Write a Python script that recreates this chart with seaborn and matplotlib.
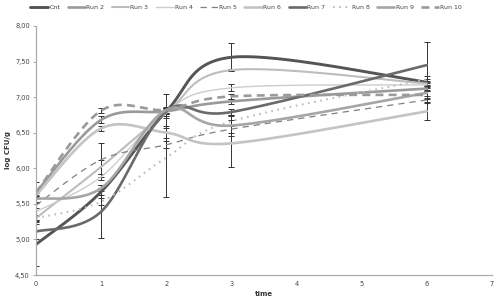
import numpy as np
import pandas as pd
import matplotlib
matplotlib.use("Agg")
import matplotlib.pyplot as plt
import seaborn as sns

# ---- data ----
time = [0, 1, 2, 3, 6]
series_names = ["Cnt", "Run 2", "Run 3", "Run 4", "Run 5",
                "Run 6", "Run 7", "Run 8", "Run 9", "Run 10"]
cnt    = [4.93, 5.67, 6.80, 7.56, 7.21]
run2   = [5.66, 6.68, 6.80, 6.94, 7.12]
run3   = [5.30, 6.02, 6.78, 7.38, 7.19]
run4   = [5.39, 5.88, 6.80, 7.13, 7.17]
run5   = [5.48, 6.12, 6.33, 6.55, 6.96]
run6   = [5.62, 6.56, 6.50, 6.35, 6.80]
run7   = [5.11, 5.39, 6.80, 6.79, 7.45]
run8   = [5.30, 5.53, 6.15, 6.66, 7.25]
run9   = [5.57, 5.72, 6.82, 6.60, 7.06]
run10  = [5.66, 6.81, 6.82, 7.01, 7.03]
values = [cnt, run2, run3, run4, run5, run6, run7, run8, run9, run10]

err_cnt   = [0.31, 0.05, 0.04, 0.20, 0.04]
err_run2  = [0.14, 0.05, 0.04, 0.04, 0.04]
err_run3  = [0.04, 0.10, 0.04, 0.02, 0.04]
err_run4  = [0.12, 0.04, 0.03, 0.05, 0.03]
err_run5  = [0.04, 0.24, 0.05, 0.05, 0.03]
err_run6  = [0.03, 0.04, 0.07, 0.33, 0.12]
err_run7  = [0.10, 0.37, 0.04, 0.04, 0.32]
err_run8  = [0.03, 0.05, 0.55, 0.07, 0.04]
err_run9  = [0.04, 0.04, 0.22, 0.15, 0.04]
err_run10 = [0.03, 0.03, 0.04, 0.04, 0.05]
errors = [err_cnt, err_run2, err_run3, err_run4, err_run5,
          err_run6, err_run7, err_run8, err_run9, err_run10]

y_ticks = [4.5, 5.0, 5.5, 6.0, 6.5, 7.0, 7.5, 8.0]
x_ticks = [0, 1, 2, 3, 4, 5, 6, 7]

# ---- styles ----
styles = {
    "Cnt":    dict(color="#555555", lw=2.1, ls="-"),
    "Run 2":  dict(color="#9a9a9a", lw=1.9, ls="-"),
    "Run 3":  dict(color="#bdbdbd", lw=1.5, ls="-"),
    "Run 4":  dict(color="#cccccc", lw=1.0, ls="-"),
    "Run 5":  dict(color="#808080", lw=0.9, ls=(0, (5, 4))),
    "Run 6":  dict(color="#c4c4c4", lw=1.9, ls="-"),
    "Run 7":  dict(color="#6a6a6a", lw=1.9, ls="-"),
    "Run 8":  dict(color="#bcbcbc", lw=1.5, ls=(0, (0.8, 2.2))),
    "Run 9":  dict(color="#a6a6a6", lw=1.9, ls="-"),
    "Run 10": dict(color="#9a9a9a", lw=1.9, ls=(0, (3, 2))),
}


def smooth(xs, ys, n=40):
    """Excel-like smoothed line: cubic Bezier through the points."""
    P = np.column_stack([xs, ys]).astype(float)
    m = len(P)
    out = []
    for i in range(m - 1):
        p0 = P[max(i - 1, 0)]
        p1 = P[i]
        p2 = P[i + 1]
        p3 = P[min(i + 2, m - 1)]
        c1 = p1 + (p2 - p0) / 6.0
        c2 = p2 - (p3 - p1) / 6.0
        t = np.linspace(0, 1, n)[:, None]
        b = ((1 - t) ** 3) * p1 + 3 * ((1 - t) ** 2) * t * c1 + 3 * (1 - t) * t ** 2 * c2 + t ** 3 * p2
        out.append(b if i == 0 else b[1:])
    b = np.vstack(out)
    return b[:, 0], b[:, 1]


sns.set_theme(style="white")
plt.rcParams["font.family"] = ["DejaVu Sans"]

fig = plt.figure(figsize=(5.0, 3.03), dpi=100)
ax = fig.add_axes([0.072, 0.0924, 0.912, 0.822])

for name, vals, err in zip(series_names, values, errors):
    st = styles[name]
    sx, sy = smooth(time, vals)
    df = pd.DataFrame({"time": sx, "val": sy})
    sns.lineplot(data=df, x="time", y="val", ax=ax, sort=False, estimator=None,
                 color=st["color"], lw=st["lw"], linestyle=st["ls"], label=name)
    ax.errorbar(time, vals, yerr=err, fmt="none", ecolor="#333333",
                elinewidth=0.7, capsize=2, capthick=0.7, zorder=1)

ax.set_xlim(0, 7)
ax.set_ylim(4.5, 8.0)
ax.set_xticks(x_ticks)
ax.set_xticklabels([str(v) for v in x_ticks])
ax.set_yticks(y_ticks)
ax.set_yticklabels([f"{v:.2f}".replace(".", ",") for v in y_ticks])
ax.tick_params(axis="y", which="major", length=2.5, width=0.6, color="#999999",
               labelsize=4.8, labelcolor="#444444", pad=2, left=True)
ax.tick_params(axis="x", which="major", length=0, labelsize=4.8,
               labelcolor="#444444", pad=4)
for s in ["top", "right"]:
    ax.spines[s].set_visible(False)
for s in ["left", "bottom"]:
    ax.spines[s].set_color("#aaaaaa")
    ax.spines[s].set_linewidth(0.9)

ax.set_xlabel("time", fontsize=5, fontweight="bold", color="#333333", labelpad=3)
ax.set_ylabel("log CFU/g", fontsize=5, fontweight="bold", color="#333333", labelpad=3)

handles, labels = ax.get_legend_handles_labels()
if ax.legend_:
    ax.legend_.remove()
fig.legend(handles, labels, loc="upper center", bbox_to_anchor=(0.492, 1.0),
           ncol=10, frameon=False, fontsize=4.5, handlelength=2.8,
           handletextpad=0.2, columnspacing=1.2, labelcolor="#444444",
           borderaxespad=0.3)

fig.savefig("out.png", dpi=100)
